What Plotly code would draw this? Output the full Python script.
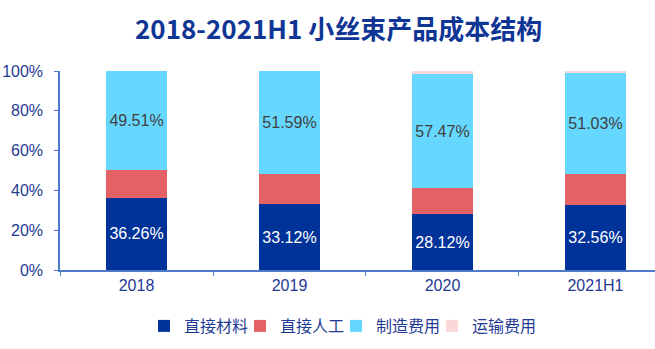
import plotly.graph_objects as go

# Cost structure of small-tow products, shares in percent
categories = ["2018", "2019", "2020", "2021H1"]
direct_material = [36.26, 33.12, 28.12, 32.56]
direct_labor = [14.23, 15.29, 12.91, 15.61]
manufacturing = [49.51, 51.59, 57.47, 51.03]
transport = [0.0, 0.0, 1.50, 0.80]

series_names = ["直接材料", "直接人工", "制造费用", "运输费用"]
colors = ["#00339A", "#E46164", "#66D8FF", "#FAD7D9"]

LATIN = "Liberation Sans, Arial, Noto Sans CJK SC, sans-serif"
CJK = "Noto Sans CJK SC, Liberation Sans, sans-serif"
AXIS_BLUE = "#4F7AC8"
TEXT_BLUE = "#1F3A93"

fig = go.Figure()

series = [direct_material, direct_labor, manufacturing, transport]
label_colors = ["#FFFFFF", None, "#404040", None]
for name, vals, col, lc in zip(series_names, series, colors, label_colors):
    if lc is not None:
        kw = dict(
            text=[f"{v:.2f}%" for v in vals],
            textposition="inside",
            insidetextanchor="middle",
            textfont=dict(family=LATIN, size=16, color=lc),
            constraintext="none",
        )
    else:
        kw = dict(textposition="none")
    fig.add_trace(go.Bar(
        x=categories, y=vals, name=name,
        marker=dict(color=col, line=dict(width=0)),
        hoverinfo="skip",
        **kw,
    ))

# empty, transparent legend slot so the last (narrow) entry is not clipped
fig.add_trace(go.Bar(
    x=[None], y=[None], name=" ",
    marker=dict(color="rgba(0,0,0,0)", line=dict(width=0)),
    hoverinfo="skip", showlegend=True,
))

fig.update_layout(
    barmode="stack",
    bargap=0.6,
    width=655, height=349,
    margin=dict(l=60, r=0, t=71, b=79),
    paper_bgcolor="white",
    plot_bgcolor="white",
    title=dict(
        text="<b>2018-2021H1 小丝束产品成本结构</b>",
        font=dict(family=CJK, size=26, color="#0F3595"),
        x=0.517, xanchor="center",
        xref="container", yref="container",
        y=1 - 30 / 349, yanchor="middle",
    ),
    showlegend=True,
    legend=dict(
        orientation="h",
        xref="container", yref="container",
        x=144 / 655, xanchor="left",
        y=1 - 326 / 349, yanchor="middle",
        font=dict(family=CJK, size=16, color=TEXT_BLUE),
        itemwidth=30,
        entrywidth=51,
        traceorder="normal",
        itemclick=False, itemdoubleclick=False,
    ),
    xaxis=dict(
        type="category",
        range=[-0.5, 3.389],
        showline=True, linecolor=AXIS_BLUE, linewidth=1.5,
        ticks="outside", tickson="boundaries", ticklen=4, tickcolor=AXIS_BLUE,
        tickfont=dict(family=LATIN, size=16, color=TEXT_BLUE),
        showgrid=False, zeroline=False,
        fixedrange=True,
    ),
    yaxis=dict(
        range=[0, 100],
        tickvals=[0, 20, 40, 60, 80, 100],
        ticktext=["0%", "20%", "40%", "60%", "80%", "100%"],
        showline=True, linecolor=AXIS_BLUE, linewidth=1.5,
        ticks="outside", ticklen=4, tickcolor=AXIS_BLUE,
        ticklabelstandoff=8,
        tickfont=dict(family=LATIN, size=16, color=TEXT_BLUE),
        showgrid=False, zeroline=False,
        fixedrange=True,
    ),
)

fig.write_html("out.html")
